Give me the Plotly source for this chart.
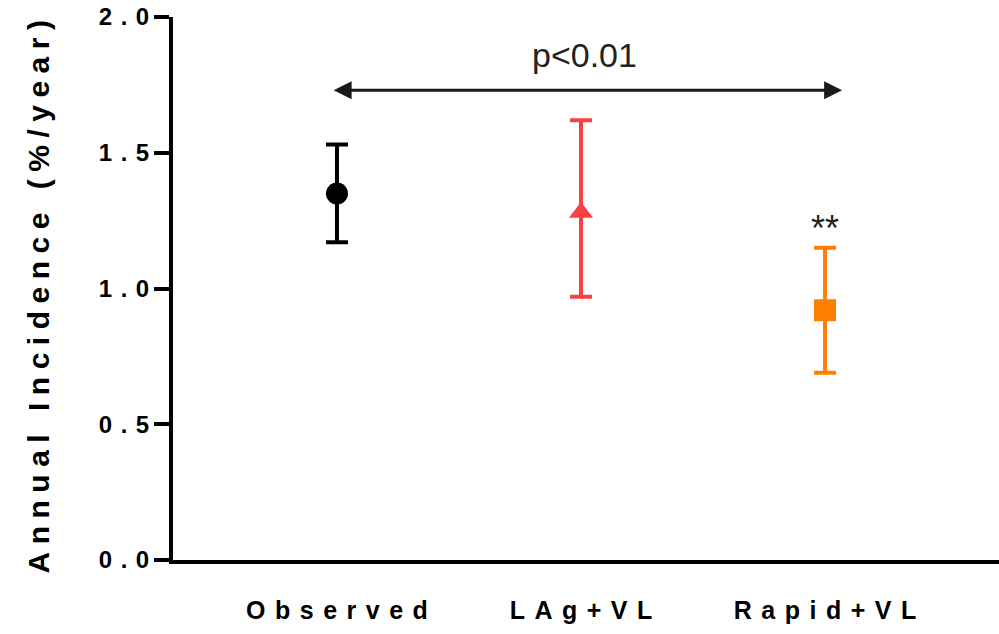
import plotly.graph_objects as go

categories = ["Observed", "LAg+VL", "Rapid+VL"]
incidence = [1.35, 1.28, 0.92]
upper_ci = [1.53, 1.62, 1.15]
lower_ci = [1.17, 0.97, 0.69]
colors = ["#000000", "#FA4141", "#FF8000"]
symbols = ["circle", "triangle-up", "square"]
sizes = [22, 21, 22]
y_ticks = [0.0, 0.5, 1.0, 1.5, 2.0]

SANS = "Liberation Sans, Arial"

fig = go.Figure()
for i, cat in enumerate(categories):
    fig.add_trace(go.Scatter(
        x=[i], y=[incidence[i]], mode="markers",
        marker=dict(color=colors[i], symbol=symbols[i], size=sizes[i], line=dict(width=0)),
        error_y=dict(type="data", symmetric=False,
                     array=[upper_ci[i] - incidence[i]],
                     arrayminus=[incidence[i] - lower_ci[i]],
                     color=colors[i], thickness=4, width=11),
        showlegend=False, cliponaxis=False,
    ))

fig.add_annotation(x=2.07, y=1.73, ax=-0.02, ay=1.73, xref="x", yref="y",
                   axref="x", ayref="y", showarrow=True, arrowside="end+start",
                   arrowhead=2, arrowsize=1.2, arrowwidth=3, arrowcolor="#1a1a1a", text="")
fig.add_annotation(x=1.016, y=1.86, xref="x", yref="y", text="p<0.01", showarrow=False,
                   font=dict(family=SANS, size=34, color="#222222"))
fig.add_annotation(x=2.0, y=1.22, xref="x", yref="y", text="**", showarrow=False,
                   font=dict(family=SANS, size=36, color="#222222"))

fig.update_layout(
    width=999, height=634,
    margin=dict(l=173, r=0, t=17, b=74),
    paper_bgcolor="white", plot_bgcolor="white",
    font=dict(family=SANS, color="black"),
    xaxis=dict(range=[-0.672, 2.713], tickmode="array", tickvals=[0, 1, 2],
               ticktext=categories, showline=True, linewidth=4, linecolor="black",
               showgrid=False, zeroline=False, ticks="", ticklabelstandoff=25,
               tickfont=dict(size=25, family=SANS, weight="bold")),
    yaxis=dict(range=[0, 2], tickvals=y_ticks, tickformat=".1f", showline=True,
               linewidth=4, linecolor="black", showgrid=False, zeroline=False,
               ticks="outside", ticklen=15, tickwidth=4, tickcolor="black",
               tickfont=dict(size=24, family=SANS, weight="bold"),
               title=dict(text="Annual Incidence (%/year)", standoff=58,
                          font=dict(size=30, family=SANS, weight="bold"))),
)

post = """
document.body.style.margin = '0';
var gd = document.getElementById('{plot_id}');
function spc(sel, s, dx){
  gd.querySelectorAll(sel).forEach(function(e){
    e.style.letterSpacing = s + 'px';
    e.setAttribute('dx', dx);
  });
}
function sp(){
  spc('.ytitle', 7.5, -4.5);
  spc('.xtick text', 9.5, 4.75);
  spc('.ytick text', 8.5, 8.5);
}
sp();
gd.on('plotly_afterplot', sp);
"""
fig.write_html("out.html", post_script=post, config={"displayModeBar": False})
